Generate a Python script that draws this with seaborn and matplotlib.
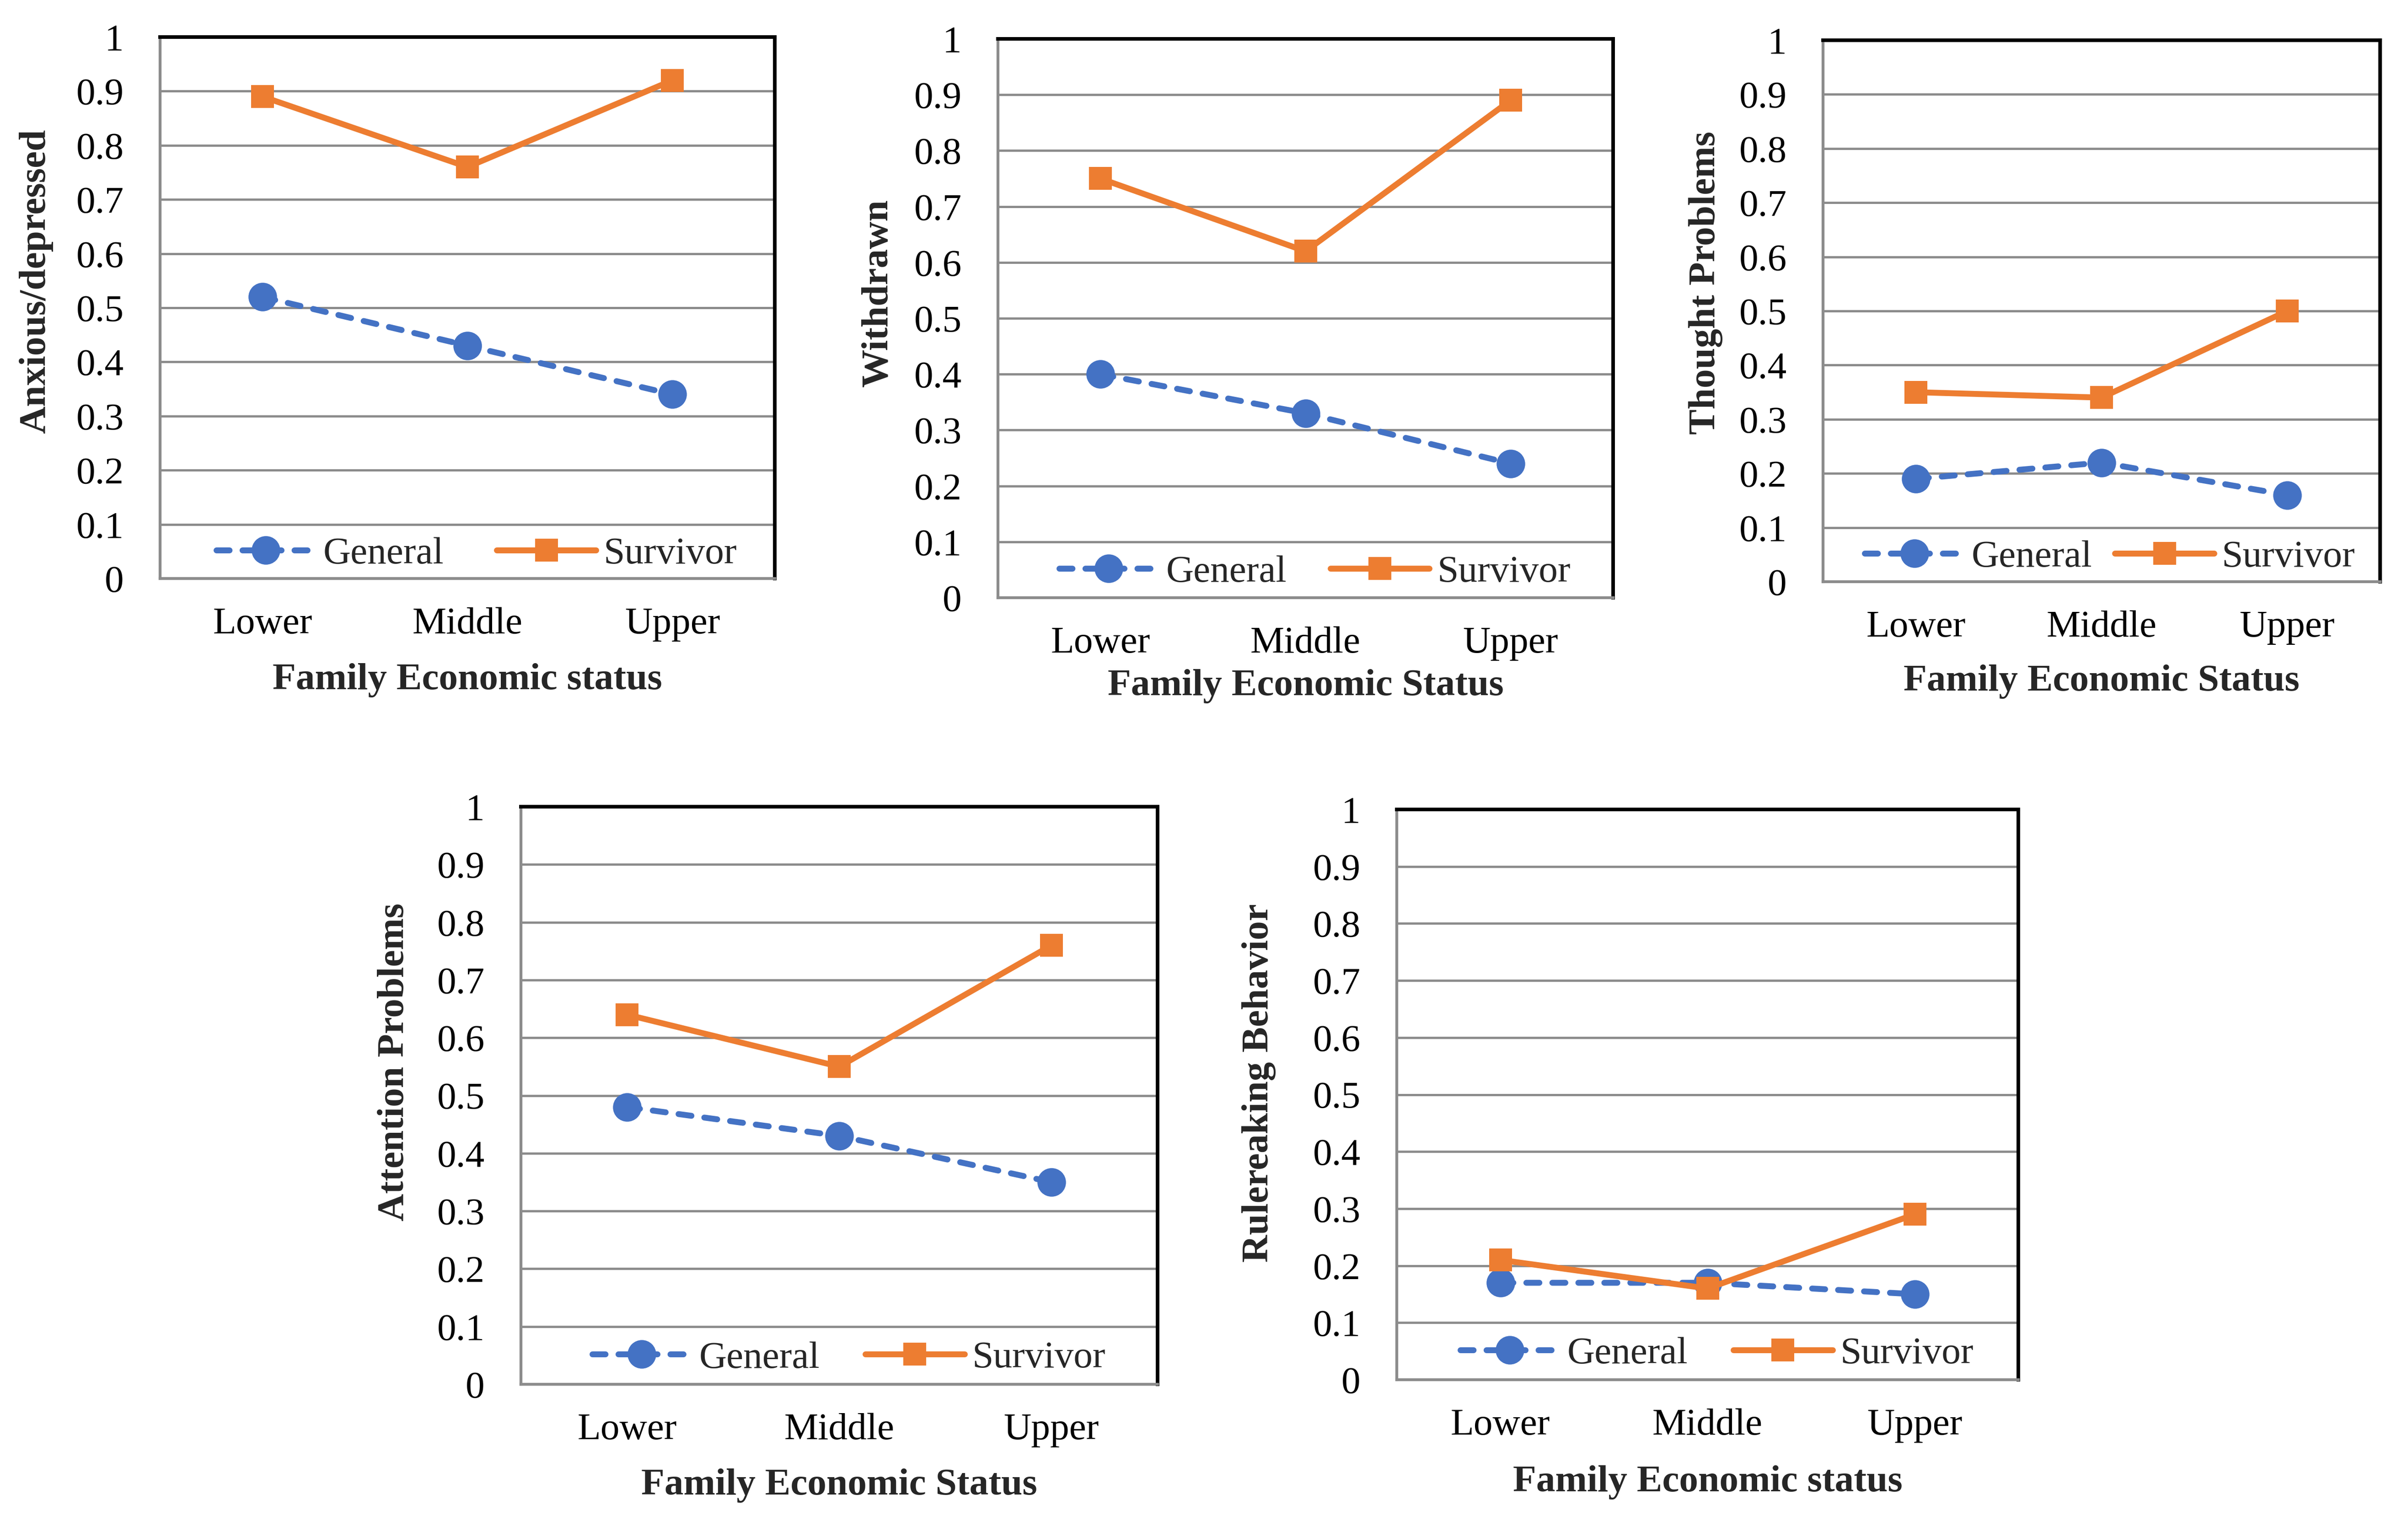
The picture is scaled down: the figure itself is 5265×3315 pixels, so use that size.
import matplotlib
matplotlib.use("Agg")
import matplotlib.pyplot as plt
import seaborn as sns
import pandas as pd

# categories and values
levels = ["Lower", "Middle", "Upper"]
groups = ["General", "Survivor"]

anxious_general = [0.52, 0.43, 0.34]
anxious_survivor = [0.89, 0.76, 0.92]
withdrawn_general = [0.40, 0.33, 0.24]
withdrawn_survivor = [0.75, 0.62, 0.89]
thought_general = [0.19, 0.22, 0.16]
thought_survivor = [0.35, 0.34, 0.50]
attention_general = [0.48, 0.43, 0.35]
attention_survivor = [0.64, 0.55, 0.76]
rule_general = [0.17, 0.17, 0.15]
rule_survivor = [0.21, 0.16, 0.29]

y_titles = ["Anxious/depressed", "Withdrawn", "Thought Problems",
            "Attention Problems", "Rulereaking Behavior"]
x_titles = ["Family Economic status", "Family Economic Status", "Family Economic Status",
            "Family Economic Status", "Family Economic status"]
y_ticks = [0, 0.1, 0.2, 0.3, 0.4, 0.5, 0.6, 0.7, 0.8, 0.9, 1]
y_ticklabels = ["0", "0.1", "0.2", "0.3", "0.4", "0.5", "0.6", "0.7", "0.8", "0.9", "1"]

panels = [
    (anxious_general, anxious_survivor),
    (withdrawn_general, withdrawn_survivor),
    (thought_general, thought_survivor),
    (attention_general, attention_survivor),
    (rule_general, rule_survivor),
]

W, H = 5265, 3315
# plot areas in pixels: left, top, right, bottom
boxes = [
    (350, 81, 1694, 1265),
    (2182, 85, 3527, 1307),
    (3986, 88, 5204, 1272),
    (1139, 1764, 2531, 3027),
    (3054, 1770, 4413, 3017),
]
ylab_pos = [(-0.174, 0.549), (-0.167, 0.545), (-0.180, 0.552), (-0.172, 0.558), (-0.194, 0.52)]
xlab_y = [-0.156, -0.128, -0.153, -0.146, -0.150]
col_space = [1.4, 1.15, 0.6, 1.2, 1.2]

sns.set_theme(style="white")
plt.rcParams["font.family"] = ["Liberation Serif", "DejaVu Serif"]
plt.rcParams["font.size"] = 20

blue = "#4472C4"
orange = "#ED7D31"
grid_c = "#8C8C8C"

fig = plt.figure(figsize=(W / 300, H / 300), dpi=300)

for i, (gen, surv) in enumerate(panels):
    l, t, r, b = boxes[i]
    ax = fig.add_axes([l / W, 1 - b / H, (r - l) / W, (b - t) / H])
    df = pd.DataFrame({
        "level": levels * 2,
        "value": gen + surv,
        "group": [groups[0]] * 3 + [groups[1]] * 3,
    })
    sns.lineplot(data=df, x="level", y="value", hue="group", style="group",
                 palette={"General": blue, "Survivor": orange},
                 markers={"General": "o", "Survivor": "s"},
                 dashes={"General": (2.2, 2.2), "Survivor": ""},
                 linewidth=3.1, markeredgewidth=0, legend=False, ax=ax, zorder=3)
    ax.lines[0].set_dash_capstyle("round")
    ax.lines[0].set_markersize(15)
    ax.lines[1].set_markersize(12)

    ax.set_xlim(-0.5, 2.5)
    ax.set_ylim(0, 1)
    ax.set_yticks(y_ticks)
    ax.set_yticklabels(y_ticklabels)
    ax.yaxis.grid(True, color=grid_c, linewidth=1.2)
    ax.xaxis.grid(False)
    ax.set_axisbelow(True)
    ax.tick_params(axis="both", length=0, labelsize=20, colors="black")
    ax.tick_params(axis="y", pad=19)
    ax.tick_params(axis="x", pad=15)

    for side in ["top", "right"]:
        ax.spines[side].set_color("black")
        ax.spines[side].set_linewidth(1.9)
    for side in ["left", "bottom"]:
        ax.spines[side].set_color(grid_c)
        ax.spines[side].set_linewidth(1.5)

    ax.set_ylabel(y_titles[i], fontsize=20, fontweight="bold")
    ax.yaxis.set_label_coords(*ylab_pos[i])
    ax.set_xlabel(x_titles[i], fontsize=20, fontweight="bold")
    ax.xaxis.set_label_coords(0.5, xlab_y[i])

    ax.legend(handles=ax.lines[:2], labels=groups, loc="center",
              bbox_to_anchor=(0.515, 0.045), ncol=2, frameon=False,
              fontsize=20, handlelength=2.6, handletextpad=0.2,
              columnspacing=col_space[i], numpoints=1, borderpad=0.1)

fig.savefig("out.png", dpi=300, facecolor="white")
